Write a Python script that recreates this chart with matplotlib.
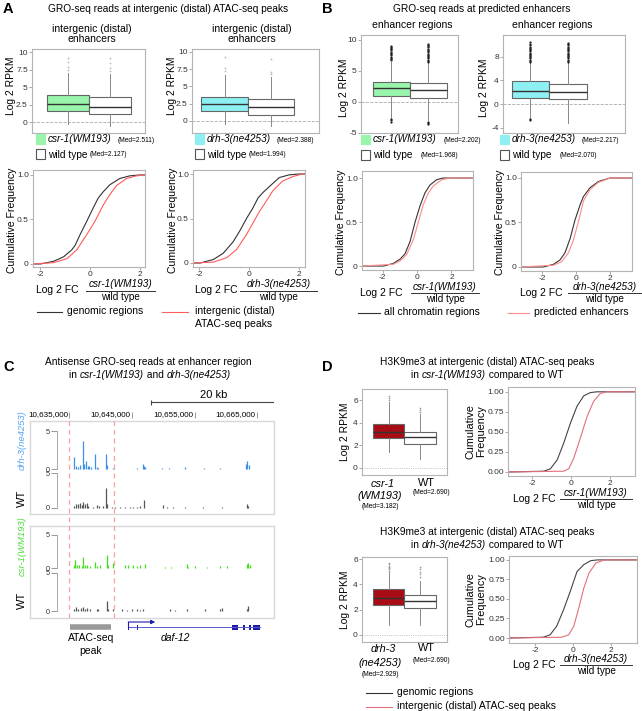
import matplotlib
matplotlib.use("Agg")
import matplotlib.pyplot as plt
from matplotlib.lines import Line2D
from matplotlib.patches import Rectangle

plt.rcParams['font.family'] = ['Liberation Sans', 'DejaVu Sans']
plt.rcParams['axes.unicode_minus'] = False

# ---------------- values ----------------
# box stats: [median, q1, q3, whisker low, whisker high]
a_csr_box = [2.511, 1.52, 3.80, -0.33, 7.0]
a_csr_fliers = [7.4, 7.9, 8.6, 9.2]
a_wt1_box = [2.127, 1.19, 3.57, -0.60, 6.9]
a_wt1_fliers = [7.3, 7.7, 8.5, 9.1]
a_drh_box = [2.388, 1.40, 3.50, -0.50, 6.6]
a_drh_fliers = [7.2, 7.6, 9.2]
a_wt2_box = [1.994, 0.90, 3.20, -0.80, 6.3]
a_wt2_fliers = [6.8, 7.1, 8.9]

b_csr_box = [2.202, 0.95, 3.20, -2.6, 6.5]
b_csr_fliers = [6.7, 6.9, 7.1, 7.3, 7.5, 7.7, 7.9, 8.1, 8.3, 8.5, 8.7, 8.9, 9.1, -2.8, -3.0, -3.3]
b_wt1_box = [1.968, 0.58, 3.05, -3.0, 6.2]
b_wt1_fliers = [6.4, 6.6, 6.8, 7.0, 7.2, 7.4, 7.6, 7.8, 8.0, 8.2, 8.4, 8.6, 8.8, 9.0, 9.2, 9.4, -3.2, -3.4, -3.6]
b_drh_box = [2.217, 1.00, 3.83, -2.4, 6.9]
b_drh_fliers = [7.1, 7.3, 7.5, 7.7, 7.9, 8.1, 8.3, 8.5, 8.7, 8.9, 9.1, 9.3, 9.5, 9.7, 9.9, 10.1, 10.4, -2.55, -2.7]
b_wt2_box = [2.070, 0.85, 3.40, -3.2, 6.9]
b_wt2_fliers = [7.1, 7.3, 7.5, 7.7, 7.9, 8.1, 8.3, 8.5, 8.7, 8.9, 9.1, 9.3, 9.5, 9.7, 9.9, 10.1, 10.3]

d_csr_box = [3.182, 2.65, 3.85, 1.42, 5.84]
d_csr_fliers = [6.0, 6.15, 6.34]
d_wt1_box = [2.690, 2.06, 3.19, 0.74, 4.80]
d_wt1_fliers = [4.95, 5.1, 5.3]
d_drh_box = [2.929, 2.37, 3.63, 0.80, 5.0]
d_drh_fliers = [5.1, 5.2, 5.3, 5.4, 5.5, 5.6, 5.7]
d_wt2_box = [2.690, 2.10, 3.20, 0.80, 4.3]
d_wt2_fliers = [4.6, 4.8, 5.0, 5.2, 5.4]

# cumulative frequency curves (log2 FC, fraction)
a1_gen_x = [-2.3, -2.0, -1.47, -1.07, -0.73, -0.6, -0.4, -0.13, 0.13, 0.33, 0.53, 0.8, 1.2, 1.6, 2.0, 2.22]
a1_gen_y = [0.0, 0.0, 0.03, 0.08, 0.16, 0.21, 0.33, 0.48, 0.63, 0.74, 0.81, 0.89, 0.96, 0.99, 1.0, 1.0]
a1_atac_x = [-2.3, -1.47, -0.93, -0.53, -0.13, 0.2, 0.53, 0.8, 1.07, 1.47, 1.87, 2.13, 2.22]
a1_atac_y = [0.0, 0.015, 0.06, 0.16, 0.33, 0.48, 0.66, 0.78, 0.88, 0.96, 0.99, 1.0, 1.0]
a2_gen_x = [-2.24, -1.95, -1.42, -1.03, -0.63, -0.37, -0.1, 0.16, 0.36, 0.55, 0.82, 1.21, 1.6, 2.0, 2.24]
a2_gen_y = [0.0, 0.0, 0.04, 0.11, 0.24, 0.36, 0.5, 0.62, 0.73, 0.79, 0.86, 0.96, 0.99, 1.0, 1.0]
a2_atac_x = [-2.24, -1.42, -0.89, -0.5, -0.1, 0.16, 0.42, 0.68, 0.95, 1.34, 1.74, 2.13, 2.24]
a2_atac_y = [0.0, 0.01, 0.06, 0.15, 0.32, 0.45, 0.58, 0.69, 0.81, 0.92, 0.97, 1.0, 1.0]

b1_gen_x = [-3.2, -1.93, -1.37, -0.97, -0.69, -0.4, -0.11, 0.17, 0.46, 0.75, 1.13, 1.5, 3.25]
b1_gen_y = [0.0, 0.0, 0.03, 0.08, 0.14, 0.28, 0.5, 0.68, 0.83, 0.92, 0.98, 1.0, 1.0]
b1_enh_x = [-3.2, -1.37, -0.97, -0.6, -0.21, 0.08, 0.37, 0.66, 0.95, 1.43, 1.91, 3.25]
b1_enh_y = [0.0, 0.02, 0.06, 0.13, 0.3, 0.5, 0.7, 0.83, 0.91, 0.98, 1.0, 1.0]
b2_gen_x = [-3.24, -1.92, -1.33, -0.94, -0.65, -0.35, -0.06, 0.24, 0.43, 0.82, 1.31, 2.0, 3.29]
b2_gen_y = [0.0, 0.0, 0.03, 0.08, 0.16, 0.32, 0.53, 0.70, 0.79, 0.89, 0.96, 1.0, 1.0]
b2_enh_x = [-3.24, -1.33, -0.84, -0.45, -0.16, 0.14, 0.43, 0.82, 1.31, 2.0, 3.29]
b2_enh_y = [0.0, 0.02, 0.06, 0.16, 0.30, 0.51, 0.74, 0.87, 0.95, 1.0, 1.0]

d1_gen_x = [-3.27, -1.41, -1.07, -0.72, -0.38, -0.03, 0.31, 0.66, 1.0, 1.34, 3.32]
d1_gen_y = [0.0, 0.01, 0.04, 0.15, 0.36, 0.61, 0.82, 0.95, 0.99, 1.0, 1.0]
d1_atac_x = [-3.27, -0.38, -0.12, 0.14, 0.48, 0.83, 1.17, 1.52, 1.86, 3.32]
d1_atac_y = [0.0, 0.01, 0.04, 0.17, 0.42, 0.69, 0.88, 0.98, 1.0, 1.0]
d2_gen_x = [-3.37, -1.57, -1.21, -0.86, -0.5, -0.14, 0.21, 0.57, 0.93, 1.29, 3.37]
d2_gen_y = [0.0, 0.01, 0.04, 0.15, 0.36, 0.6, 0.85, 0.94, 0.99, 1.0, 1.0]
d2_atac_x = [-3.37, -0.59, -0.23, 0.04, 0.3, 0.57, 0.84, 1.2, 1.64, 3.37]
d2_atac_y = [0.0, 0.01, 0.04, 0.15, 0.38, 0.64, 0.83, 0.96, 1.0, 1.0]

# genome browser tracks (chromosome position, signal)
drh_pos = [10635750, 10636070, 10636440, 10636710, 10637135, 10637350, 10637670, 10637930, 10638200, 10638410,
           10639100, 10639370, 10639640, 10640860, 10641070, 10642030, 10645870, 10646720, 10646930, 10647140,
           10649860, 10650920, 10653480, 10656510, 10659070, 10663220, 10663430, 10663650]
drh_h = [1.6, 0.4, 0.3, 0.5, 3.7, 0.6, 1.1, 0.4, 0.4, 0.3, 2.0, 0.3, 0.2, 2.0, 0.5, 0.2, 0.2, 0.6, 0.4, 0.3,
         0.15, 0.2, 0.25, 0.15, 0.2, 0.6, 1.0, 0.5]
wt1_pos = [10635750, 10636070, 10636440, 10636710, 10636975, 10637240, 10637510, 10637770, 10638040, 10638840,
           10639370, 10639800, 10640430, 10640860, 10641070, 10641770, 10642300, 10643100, 10643900, 10644690,
           10645230, 10645760, 10646290, 10646930, 10650020, 10650550, 10651610, 10653480, 10656400, 10659330,
           10663430, 10663580]
wt1_h = [0.3, 0.6, 0.5, 0.7, 0.4, 0.8, 0.5, 0.7, 0.3, 0.2, 0.4, 0.3, 0.3, 2.8, 0.6, 0.2, 0.15, 0.1, 0.15, 0.15,
         0.2, 0.2, 0.3, 1.15, 0.4, 0.15, 0.15, 0.2, 0.1, 0.1, 0.5, 0.3]
csr_pos = [10635750, 10635910, 10636180, 10636600, 10636975, 10637240, 10637510, 10637880, 10638310, 10639100,
           10639480, 10639900, 10640970, 10641230, 10642030, 10643900, 10644430, 10645230, 10645870, 10646290,
           10647090, 10650280, 10651190, 10653740, 10654010, 10655070, 10656940, 10659070, 10660130, 10663430,
           10663580, 10663860]
csr_h = [0.4, 1.2, 0.4, 0.5, 0.3, 1.6, 0.4, 0.5, 0.3, 0.95, 0.3, 0.4, 2.0, 0.4, 0.8, 0.4, 0.5, 0.4, 0.3, 0.4,
         0.6, 0.2, 0.2, 0.6, 0.2, 0.3, 0.2, 0.3, 0.25, 0.6, 0.8, 0.5]
wt2_pos = [10635750, 10636070, 10636440, 10636815, 10637240, 10637560, 10637880, 10638310, 10639370, 10639640,
           10640970, 10641230, 10642030, 10643360, 10644160, 10644960, 10645760, 10646290, 10646820, 10651080,
           10651880, 10653740, 10656670, 10659070, 10659330, 10663430, 10663580]
wt2_h = [0.3, 0.57, 0.3, 0.4, 0.5, 0.3, 0.4, 0.2, 0.3, 0.2, 1.3, 0.3, 0.2, 0.2, 0.15, 0.2, 0.2, 0.15, 0.3, 0.2,
         0.1, 0.2, 0.2, 0.3, 0.4, 0.3, 0.6]

coord_ticks = [10635000, 10645000, 10655000, 10665000]
scale_start = 10648000
scale_len = 20000
enhancer_window = [10635000, 10642200]
atac_peak = [10635150, 10641700]
daf12_span = [10644420, 10665400]
daf12_exon_start = [10644420, 10645860, 10660990, 10662750, 10663640, 10664300]
daf12_exon_end = [10644520, 10645960, 10661890, 10663120, 10664100, 10665400]

# ---------------- colours ----------------
GREEN_BOX = '#98f5ab'
CYAN_BOX = '#8ef0f3'
DARKRED = '#a80c14'
TRACK_BLUE = '#3d8fe8'
TRACK_GREEN = '#3fe01a'
TRACK_GREY = '#555555'
FRAME = '#b4b4b4'

W, H = 642, 711
fig = plt.figure(figsize=(W / 100, H / 100), dpi=100)


def add_ax(l, t, r, b):
    return fig.add_axes([l / W, 1 - b / H, (r - l) / W, (b - t) / H])


def txt(x, y, s, size=7.3, ha='left', va='center', **kw):
    return fig.text(x / W, 1 - y / H, s, fontsize=size, ha=ha, va=va, **kw)


def hline(x1, x2, y, color='#222', lw=0.8):
    fig.add_artist(Line2D([x1 / W, x2 / W], [1 - y / H, 1 - y / H], color=color, lw=lw))


def square(l, t, r, b, fc, ec):
    fig.add_artist(Rectangle((l / W, 1 - b / H), (r - l) / W, (b - t) / H, fc=fc, ec=ec, lw=0.8,
                             transform=fig.transFigure))


def rich(x, y, parts, size=7.3):
    # centred line made of pieces with their own style
    r = fig.canvas.get_renderer()
    objs = [txt(0, y, s, size=size, style=st) for s, st in parts]
    widths = [o.get_window_extent(r).width for o in objs]
    x0 = x - sum(widths) / 2
    for o, w in zip(objs, widths):
        o.set_x(x0 / W)
        x0 += w


def frame_style(ax):
    for sp in ax.spines.values():
        sp.set_color(FRAME)
        sp.set_linewidth(0.8)
    ax.tick_params(length=2, width=0.5, color='#888', labelsize=6, pad=1, labelcolor='#333')


def box_panel(rect, boxes, fliers, colors, xlim, ylim, yticks, ytl, fl_color, fl_size, zero_ls='--'):
    ax = add_ax(*rect)
    stats = [dict(med=b[0], q1=b[1], q3=b[2], whislo=b[3], whishi=b[4], fliers=f) for b, f in zip(boxes, fliers)]
    bp = ax.bxp(stats, positions=[1, 2], widths=1.0, patch_artist=True, showcaps=False,
                boxprops=dict(edgecolor='#666', lw=0.8),
                medianprops=dict(color='#333', lw=1.0),
                whiskerprops=dict(color='#888', lw=0.7),
                flierprops=dict(marker='o', ms=fl_size, mfc=fl_color, mec='none'))
    for patch, c in zip(bp['boxes'], colors):
        patch.set_facecolor(c)
    ax.axhline(0, ls=zero_ls, color='#aaa', lw=0.6, zorder=0)
    ax.set_xlim(*xlim)
    ax.set_ylim(*ylim)
    ax.set_xticks([])
    ax.set_yticks(yticks)
    ax.set_yticklabels(ytl)
    frame_style(ax)
    return ax


def cdf_panel(rect, curves, xlim, ylim, yticks, ytl):
    ax = add_ax(*rect)
    for x, y, c in curves:
        ax.plot(x, y, color=c, lw=0.8)
    ax.set_xlim(*xlim)
    ax.set_ylim(*ylim)
    ax.set_xticks([-2, 0, 2])
    ax.set_xticklabels(['-2', '0', '2'])
    ax.set_yticks(yticks)
    ax.set_yticklabels(ytl)
    frame_style(ax)
    return ax


def fc_label(x_lab, y_lab, x1, x2, y_num, y_line, y_den, num):
    txt(x_lab, y_lab, 'Log 2 FC', size=7.5)
    txt((x1 + x2) / 2, y_num, num, size=7.2, ha='center', style='italic')
    hline(x1, x2, y_line, color='#333', lw=0.7)
    txt((x1 + x2) / 2, y_den, 'wild type', size=7.2, ha='center')


def med(b):
    return '(Med=%.3f)' % b[0]


# ======================= panel A =======================
txt(3, 9, 'A', size=10.5, weight='bold')
txt(168, 9, 'GRO-seq reads at intergenic (distal) ATAC-seq peaks', size=7.3, ha='center')
txt(92, 34, 'intergenic (distal)\nenhancers', size=7.5, ha='center', linespacing=1.05)
txt(252, 34, 'intergenic (distal)\nenhancers', size=7.5, ha='center', linespacing=1.05)

box_panel((32, 49, 145, 133), [a_csr_box, a_wt1_box], [a_csr_fliers, a_wt1_fliers], [GREEN_BOX, 'white'],
          (0.14, 2.83), (-1.57, 10.43), [0, 2.5, 5, 7.5, 10], ['0', '2.5', '5', '7.5', '10'], '#bbb', 1.3)
box_panel((192, 49, 319, 133), [a_drh_box, a_wt2_box], [a_drh_fliers, a_wt2_fliers], [CYAN_BOX, 'white'],
          (0.30, 3.03), (-1.76, 10.4), [0, 2.5, 5, 7.5, 10], ['0', '2.5', '5', '7.5', '10'], '#bbb', 1.3)
txt(11, 86, 'Log 2 RPKM', size=7.4, ha='center', rotation=90)
txt(172, 86, 'Log 2 RPKM', size=7.4, ha='center', rotation=90)

square(36, 134, 45, 144, GREEN_BOX, GREEN_BOX)
txt(48, 139.5, 'csr-1(WM193)', size=7.2, style='italic')
txt(118, 140, med(a_csr_box), size=4.8)
square(36, 149, 45, 159, 'white', '#555')
txt(48, 154.5, 'wild type', size=7.3)
txt(90, 155, med(a_wt1_box), size=4.8)
square(195, 134, 204, 144, CYAN_BOX, CYAN_BOX)
txt(207, 139.5, 'drh-3(ne4253)', size=7.2, style='italic')
txt(277, 140, med(a_drh_box), size=4.8)
square(195, 149, 204, 159, 'white', '#555')
txt(207, 154.5, 'wild type', size=7.3)
txt(249, 155, med(a_wt2_box), size=4.8)

RED_A = '#ff5c5c'
cdf_panel((33, 170, 145, 267), [(a1_gen_x, a1_gen_y, '#333'), (a1_atac_x, a1_atac_y, RED_A)],
          (-2.3, 2.22), (-0.034, 1.056), [0, 0.5, 1], ['0', '0.5', '1.0'])
cdf_panel((193, 170, 305, 267), [(a2_gen_x, a2_gen_y, '#333'), (a2_atac_x, a2_atac_y, RED_A)],
          (-2.24, 2.24), (-0.045, 1.045), [0, 0.5, 1], ['0', '0.5', '1.0'])
txt(12, 220, 'Cumulative Frequency', size=7.6, ha='center', rotation=90)
txt(173, 220, 'Cumulative Frequency', size=7.6, ha='center', rotation=90)
fc_label(36, 290, 86, 155, 284, 291, 297.5, 'csr-1(WM193)')
fc_label(195, 290, 240, 317, 284, 291, 297.5, 'drh-3(ne4253)')

hline(37, 62, 312, color='#333', lw=0.8)
txt(67, 311, 'genomic regions', size=7.5)
hline(162, 188, 312, color=RED_A, lw=0.8)
txt(195, 311, 'intergenic (distal)', size=7.5)
txt(195, 324, 'ATAC-seq peaks', size=7.5)

# ======================= panel B =======================
txt(322, 9, 'B', size=10.5, weight='bold')
txt(482, 9, 'GRO-seq reads at predicted enhancers', size=7.3, ha='center')
txt(412, 25, 'enhancer regions', size=7.5, ha='center')
txt(552, 25, 'enhancer regions', size=7.5, ha='center')

box_panel((361, 35, 458, 133), [b_csr_box, b_wt1_box], [b_csr_fliers, b_wt1_fliers], [GREEN_BOX, 'white'],
          (0.18, 2.8), (-5.05, 10.8), [-5, 0, 5, 10], ['-5', '0', '5', '10'], '#222', 1.6)
box_panel((503, 35, 625, 133), [b_drh_box, b_wt2_box], [b_drh_fliers, b_wt2_fliers], [CYAN_BOX, 'white'],
          (0.27, 3.52), (-4.9, 11.66), [-4, 0, 4, 8], ['-4', '0', '4', '8'], '#222', 1.6)
txt(344, 88, 'Log 2 RPKM', size=7.4, ha='center', rotation=90)
txt(484, 88, 'Log 2 RPKM', size=7.4, ha='center', rotation=90)

square(361, 135, 370, 144, GREEN_BOX, GREEN_BOX)
txt(373, 139.5, 'csr-1(WM193)', size=7.2, style='italic')
txt(444, 140, med(b_csr_box), size=4.8)
square(361, 150, 370, 160, 'white', '#555')
txt(373, 155, 'wild type', size=7.3)
txt(421, 155.5, med(b_wt1_box), size=4.8)
square(500, 135, 509, 144, CYAN_BOX, CYAN_BOX)
txt(512, 139.5, 'drh-3(ne4253)', size=7.2, style='italic')
txt(582, 140, med(b_drh_box), size=4.8)
square(500, 150, 509, 160, 'white', '#555')
txt(512, 155, 'wild type', size=7.3)
txt(560, 155.5, med(b_wt2_box), size=4.8)

RED_B = '#ff8a8a'
cdf_panel((362, 171, 473, 270), [(b1_gen_x, b1_gen_y, '#333'), (b1_enh_x, b1_enh_y, RED_B)],
          (-3.19, 3.25), (-0.045, 1.08), [0, 0.5, 1], ['0', '0.5', '1.0'])
cdf_panel((521, 172, 632, 271), [(b2_gen_x, b2_gen_y, '#333'), (b2_enh_x, b2_enh_y, RED_B)],
          (-3.24, 3.29), (-0.045, 1.067), [0, 0.5, 1], ['0', '0.5', '1.0'])
txt(341, 222, 'Cumulative Frequency', size=7.6, ha='center', rotation=90)
txt(500, 222, 'Cumulative Frequency', size=7.6, ha='center', rotation=90)
fc_label(360, 293, 411, 479, 287, 293, 299.5, 'csr-1(WM193)')
fc_label(520, 293, 568, 641, 287, 293, 299.5, 'drh-3(ne4253)')

hline(358, 380, 313, color='#333', lw=0.8)
txt(384, 312, 'all chromatin regions', size=7.5)
hline(508, 529, 313, color=RED_B, lw=0.8)
txt(534, 312, 'predicted enhancers', size=7.5)

# ======================= panel C =======================
txt(3, 367, 'C', size=10.5, weight='bold')
txt(148, 362, 'Antisense GRO-seq reads at enhancer region', size=7.3, ha='center')
rich(150, 375, [('in ', 'normal'), ('csr-1(WM193)', 'italic'), (' and ', 'normal'), ('drh-3(ne4253)', 'italic')])


def gx(px):
    # pixel -> chromosome position calibration of the browser view
    return 10635000 + (px - 69.3) / 62.6 * 10000


# ruler and scale bar
ruler = add_ax(30, 388, 274, 420)
ruler.set_xlim(gx(30), gx(274))
ruler.set_ylim(420, 388)
ruler.axis('off')
ruler.plot([scale_start, scale_start + scale_len], [402, 402], color='#444', lw=0.8)
ruler.vlines([scale_start, scale_start + scale_len], 399.5, 404.5, color='#444', lw=0.8)
ruler.text(scale_start + scale_len / 2, 395, '%d kb' % (scale_len // 1000), fontsize=8, ha='center', va='center')
for p in coord_ticks:
    ruler.text(p - 200, 415, '{:,}'.format(p), fontsize=5.8, ha='right', va='center')
ruler.vlines(coord_ticks, 412, 418, color='#888', lw=0.6)

# track frames
for t, b in [(421, 514), (526, 618)]:
    fr = add_ax(30, t, 274, b)
    fr.set_xticks([])
    fr.set_yticks([])
    for sp in fr.spines.values():
        sp.set_color('#d8d8d8')
        sp.set_linewidth(1.0)


def track(rect, ylim, pos, h, color):
    ax = add_ax(*rect)
    ax.patch.set_alpha(0)
    ax.vlines(pos, 0, h, color=color, lw=0.9)
    ax.set_xlim(gx(57), gx(274))
    ax.set_ylim(*ylim)
    for s in ['top', 'right', 'bottom']:
        ax.spines[s].set_visible(False)
    ax.spines['left'].set_bounds(0, 5)
    ax.spines['left'].set_color('#aaa')
    ax.spines['left'].set_linewidth(0.7)
    ax.set_xticks([])
    ax.set_yticks([0, 5])
    ax.tick_params(axis='y', length=4, width=0.6, color='#888', labelsize=5.2, pad=1, labelcolor='#333')


track((57, 426, 274, 471), (-0.26, 5.66), drh_pos, drh_h, TRACK_BLUE)
track((57, 470, 274, 510), (-0.29, 5.43), wt1_pos, wt1_h, TRACK_GREY)
track((57, 531, 274, 570), (-0.3, 5.6), csr_pos, csr_h, TRACK_GREEN)
track((57, 570, 274, 613), (-0.26, 5.39), wt2_pos, wt2_h, TRACK_GREY)

txt(22, 440, 'drh-3(ne4253)', size=6.8, ha='center', rotation=90, style='italic', color='#55a5f0')
txt(22, 498, 'WT', size=8, ha='center', rotation=90)
txt(22, 546, 'csr-1(WM193)', size=6.8, ha='center', rotation=90, style='italic', color='#4de03a')
txt(22, 600, 'WT', size=8, ha='center', rotation=90)

# enhancer window dashed lines
ov = add_ax(30, 421, 274, 618)
ov.patch.set_alpha(0)
ov.axis('off')
ov.set_xlim(gx(30), gx(274))
for p in enhancer_window:
    ov.axvline(p, ls=(0, (4, 3)), color='#f5a3a3', lw=0.9)

# ATAC peak and gene model
gene = add_ax(30, 616, 274, 660)
gene.patch.set_alpha(0)
gene.axis('off')
gene.set_xlim(gx(30), gx(274))
gene.set_ylim(660, 616)
gene.plot(atac_peak, [627, 627], color='#999', lw=4, solid_capstyle='butt')
gene.text(sum(atac_peak) / 2, 638, 'ATAC-seq', fontsize=7.5, ha='center', va='center')
gene.text(sum(atac_peak) / 2, 651, 'peak', fontsize=7.5, ha='center', va='center')
gene.plot(daf12_span, [627, 627], color='#5a5ad0', lw=0.7)
for s, e in zip(daf12_exon_start, daf12_exon_end):
    gene.add_patch(Rectangle((s, 624.5), e - s, 5, fc='#1c1ca8', ec='none'))
gene.plot([daf12_span[0], daf12_span[0]], [627, 622], color='#1c1ca8', lw=0.8)
gene.annotate('', xy=(daf12_span[0] + 4300, 622), xytext=(daf12_span[0], 622),
              arrowprops=dict(arrowstyle='-|>', color='#1c1ca8', lw=0.8, mutation_scale=6,
                              shrinkA=0, shrinkB=0))
gene.text(sum(daf12_span) / 2 - 3000, 638, 'daf-12', fontsize=7.5, ha='center', va='center', style='italic')

# ======================= panel D =======================
txt(322, 367, 'D', size=10.5, weight='bold')
RED_D = '#e0707a'


def d_block(top, title_parts, box_rect, boxes, fliers, ylim_box, cdf_rect, curves, xlim_c, ylim_c,
            name1, name2, num, lab_rows, fc_rows):
    txt(487, top, 'H3K9me3 at intergenic (distal) ATAC-seq peaks', size=7.3, ha='center')
    rich(487, top + 13, title_parts)
    ax = box_panel(box_rect, boxes, fliers, [DARKRED, 'white'], (0.17, 2.83), ylim_box,
                   [0, 2, 4, 6], ['0', '2', '4', '6'], '#999', 1.2, zero_ls=':')
    yc = (box_rect[1] + box_rect[3]) / 2
    txt(345, yc, 'Log 2 RPKM', size=7.4, ha='center', rotation=90)
    r1, r2, r3, rw1, rw2 = lab_rows
    txt(383, r1, name1, size=7.8, ha='center', style='italic')
    txt(380, r2, name2, size=7.8, ha='center', style='italic')
    txt(380, r3, med(boxes[0]), size=4.8, ha='center')
    txt(426, rw1, 'WT', size=7.8, ha='center')
    txt(431, rw2, med(boxes[1]), size=4.8, ha='center')
    cdf_panel(cdf_rect, curves, xlim_c, ylim_c, [0, 0.25, 0.5, 0.75, 1.0],
              ['0.00', '0.25', '0.50', '0.75', '1.00'])
    yc2 = (cdf_rect[1] + cdf_rect[3]) / 2
    txt(476, yc2, 'Cumulative\nFrequency', size=7.8, ha='center', rotation=90, linespacing=1.0)
    fy_lab, fy_num, fy_line, fy_den = fc_rows
    fc_label(513, fy_lab, 560, 632, fy_num, fy_line, fy_den, num)


d_block(362, [('in ', 'normal'), ('csr-1(WM193)', 'italic'), (' compared to WT', 'normal')],
        (362, 389, 447, 475), [d_csr_box, d_wt1_box], [d_csr_fliers, d_wt1_fliers], (-0.65, 6.98),
        (508, 387, 635, 476), [(d1_gen_x, d1_gen_y, '#444'), (d1_atac_x, d1_atac_y, RED_D)],
        (-3.27, 3.32), (-0.05, 1.06), 'csr-1', '(WM193)', 'csr-1(WM193)',
        (484, 496, 507, 483, 492), (499, 492.5, 498.5, 505.5))
d_block(532, [('in ', 'normal'), ('drh-3(ne4253)', 'italic'), (' compared to WT', 'normal')],
        (362, 557, 447, 642), [d_drh_box, d_wt2_box], [d_drh_fliers, d_wt2_fliers], (-0.56, 6.18),
        (509, 556, 637, 643), [(d2_gen_x, d2_gen_y, '#444'), (d2_atac_x, d2_atac_y, RED_D)],
        (-3.37, 3.37), (-0.064, 1.05), 'drh-3', '(ne4253)', 'drh-3(ne4253)',
        (649, 663, 675, 648, 660), (665, 658.5, 664.5, 671.5))

hline(366, 392, 693, color='#333', lw=0.8)
txt(397, 692, 'genomic regions', size=7.5)
hline(366, 392, 707, color=RED_D, lw=0.8)
txt(397, 706, 'intergenic (distal) ATAC-seq peaks', size=7.5)

fig.savefig('out.png', dpi=100)
